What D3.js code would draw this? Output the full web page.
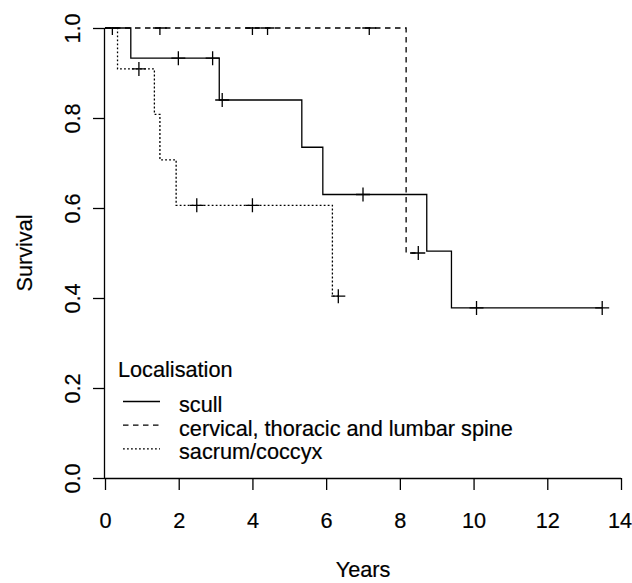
<!DOCTYPE html>
<html>
<head>
<meta charset="utf-8">
<script src="https://cdn.jsdelivr.net/npm/d3@7"></script>
<style>
  html, body { margin: 0; padding: 0; background: #fff; }
  svg { display: block; }
  text { font-family: "Liberation Sans", Arial, sans-serif; fill: #000; stroke: #000; stroke-width: 0.2; }
</style>
</head>
<body>
<script>
// Kaplan-Meier survival by tumour localisation

// step times (years) and survival after each step
const scullTimes = [0, 0.70, 3.10, 5.34, 5.91, 8.73, 9.40];
const scullSurv  = [1, 0.933, 0.84, 0.735, 0.63, 0.504, 0.378];
const scullEnd = 13.49;
const scullCensor = [1.99, 2.92, 3.18, 7.0, 10.08, 13.49];

const spineTimes = [0, 8.17];
const spineSurv  = [1, 0.5];
const spineEnd = 8.5;
const spineCensor = [0.2, 1.49, 4.0, 4.41, 7.17, 8.5];

const sacrumTimes = [0, 0.34, 1.34, 1.49, 1.93, 6.17];
const sacrumSurv  = [1, 0.909, 0.808, 0.707, 0.606, 0.404];
const sacrumEnd = 6.33;
const sacrumCensor = [0.92, 2.49, 4.0, 6.33];

const groupNames = ["scull", "cervical, thoracic and lumbar spine", "sacrum/coccyx"];
const xTicks = [0, 2, 4, 6, 8, 10, 12, 14];
const yTicks = [0, 0.2, 0.4, 0.6, 0.8, 1.0];

const W = 632, H = 583;
const FS = 21.7;
const x = d3.scaleLinear().domain([0, 14]).range([105, 621]);
const y = d3.scaleLinear().domain([0, 1]).range([478, 28]);

const svg = d3.select("body").append("svg")
  .attr("width", W).attr("height", H);

svg.append("defs").append("clipPath").attr("id", "plotclip")
  .append("rect")
  .attr("x", x(0) - 1).attr("y", y(1) - 1)
  .attr("width", x(14) - x(0) + 2).attr("height", y(0) - y(1) + 2);

const groups = [
  { times: scullTimes, surv: scullSurv, end: scullEnd, censor: scullCensor, dash: null },
  { times: spineTimes, surv: spineSurv, end: spineEnd, censor: spineCensor, dash: "5.5,4.5" },
  { times: sacrumTimes, surv: sacrumSurv, end: sacrumEnd, censor: sacrumCensor, dash: "1.8,2.2" }
];

function survAt(g, t) {
  let s = g.surv[0];
  for (let i = 0; i < g.times.length; i++) if (g.times[i] <= t) s = g.surv[i];
  return s;
}

const line = d3.line()
  .x(d => x(d[0])).y(d => y(d[1]))
  .curve(d3.curveStepAfter);

const plot = svg.append("g").attr("clip-path", "url(#plotclip)");

groups.forEach(g => {
  const pts = g.times.map((t, i) => [t, g.surv[i]]);
  pts.push([g.end, g.surv[g.surv.length - 1]]);
  plot.append("path")
    .attr("d", line(pts))
    .attr("fill", "none")
    .attr("stroke", "#000")
    .attr("stroke-width", 1.3)
    .attr("stroke-dasharray", g.dash);

  // censoring marks
  const half = 7;
  plot.selectAll(null).data(g.censor).enter().append("path")
    .attr("d", t => {
      const cx = x(t), cy = y(survAt(g, t));
      return `M${cx - half},${cy}H${cx + half}M${cx},${cy - half}V${cy + half}`;
    })
    .attr("stroke", "#000")
    .attr("stroke-width", 1.3)
    .attr("fill", "none");
});

// axes
const tickLen = 12;
const xAxis = d3.axisBottom(x).tickValues(xTicks).tickSize(tickLen).tickPadding(22)
  .tickFormat(d3.format("d"));
const gx = svg.append("g").attr("transform", `translate(0,${y(0)})`).call(xAxis);
gx.select(".domain").attr("d", `M${x(0)},0.5H${x(14)}`);
gx.selectAll("line, path").attr("stroke", "#000").attr("stroke-width", 1.3);
gx.selectAll("text")
  .attr("y", null).attr("dy", null)
  .attr("transform", d => `translate(${d === 14 ? -1.5 : 0},${528 - y(0)})`)
  .attr("font-size", FS).attr("font-family", "Liberation Sans, Arial, sans-serif");

const yAxis = d3.axisLeft(y).tickValues(yTicks).tickSize(tickLen)
  .tickFormat(d3.format(".1f"));
const gy = svg.append("g").attr("transform", `translate(${x(0)},0)`).call(yAxis);
gy.select(".domain").attr("d", `M-0.5,${y(0)}V${y(1)}`);
gy.selectAll("line, path").attr("stroke", "#000").attr("stroke-width", 1.3);
gy.selectAll("text")
  .attr("x", null).attr("dy", null)
  .attr("text-anchor", "middle")
  .attr("transform", `translate(${80 - x(0)},0) rotate(-90)`)
  .attr("font-size", FS).attr("font-family", "Liberation Sans, Arial, sans-serif");

// axis titles
svg.append("text")
  .attr("x", (x(0) + x(14)) / 2).attr("y", 577)
  .attr("text-anchor", "middle").attr("font-size", FS)
  .text("Years");
svg.append("text")
  .attr("transform", `translate(32,${(y(0) + y(1)) / 2}) rotate(-90)`)
  .attr("text-anchor", "middle").attr("font-size", FS)
  .text("Survival");

// legend
const legend = svg.append("g");
legend.append("text")
  .attr("x", 118).attr("y", 377)
  .attr("font-size", FS).text("Localisation");
const rowY = [412, 435.7, 459.3];
groups.forEach((g, i) => {
  legend.append("line")
    .attr("x1", 123).attr("x2", 160)
    .attr("y1", rowY[i] - 10.5).attr("y2", rowY[i] - 10.5)
    .attr("stroke", "#000").attr("stroke-width", 1.3)
    .attr("stroke-dasharray", g.dash);
  legend.append("text")
    .attr("x", 179).attr("y", rowY[i])
    .attr("font-size", FS).text(groupNames[i]);
});
</script>
</body>
</html>
